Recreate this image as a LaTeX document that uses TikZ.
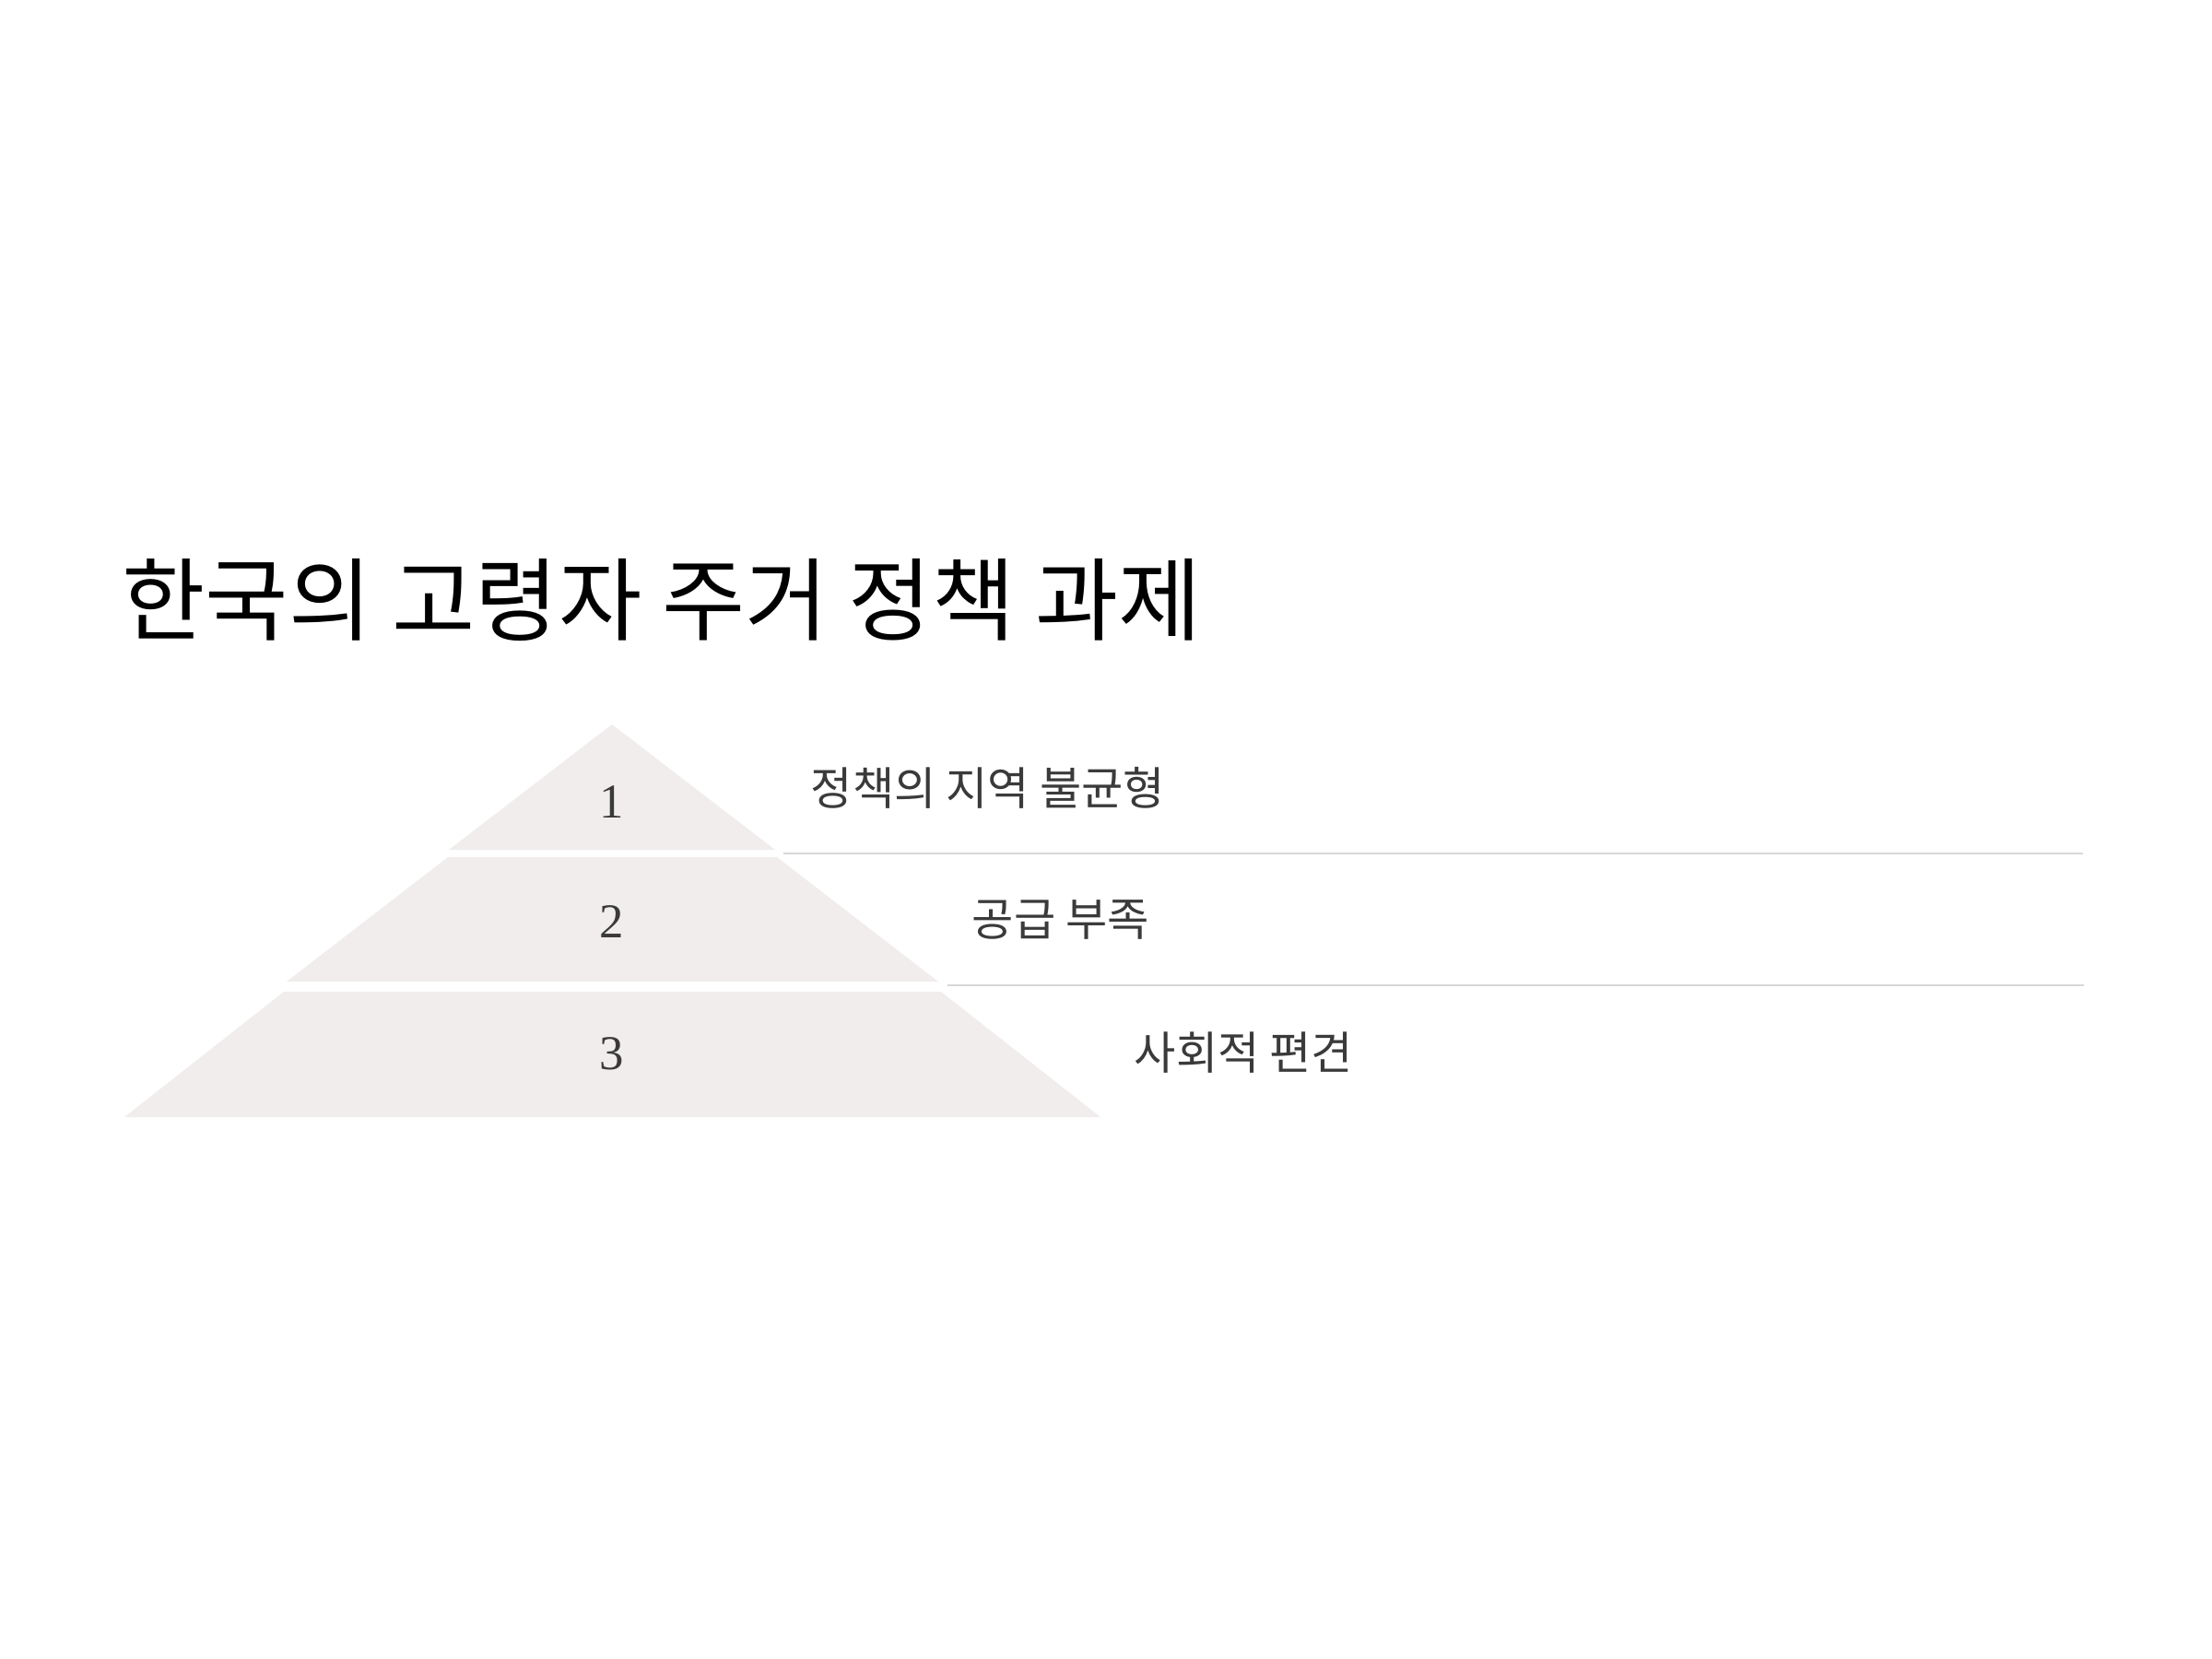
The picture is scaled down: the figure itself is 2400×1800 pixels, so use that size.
\documentclass[tikz,border=0pt]{standalone}
\usepackage{fontspec}
\newfontfamily\cjk{Noto Sans CJK KR}
\setmainfont{Liberation Serif}
\definecolor{layerfill}{HTML}{F0EDEC}
\definecolor{rulecol}{HTML}{D9D6D6}
\definecolor{txt}{HTML}{3A3A3A}
\begin{document}
\begin{tikzpicture}[x=0.01cm,y=-0.01cm,
  layer/.style={fill=layerfill},
  sep/.style={draw=rulecol,line width=0.7pt},
  num/.style={text=txt,font=\fontsize{15}{18}\selectfont,inner sep=0pt},
  lab/.style={text=txt,font=\cjk\fontsize{14}{17}\selectfont,inner sep=0pt,anchor=west},
  ttl/.style={text=black,font=\cjk\fontsize{27.9}{34}\selectfont,inner sep=0pt,anchor=west}]
\useasboundingbox (0,0) rectangle (2400,1800);
% pyramid layers
\fill[layer] (664,786) -- (841,922) -- (487,922) -- cycle;
\fill[layer] (486,930) -- (843,930) -- (1018,1065) -- (311,1065) -- cycle;
\fill[layer] (308,1076) -- (1021,1076) -- (1194,1212) -- (135,1212) -- cycle;
% separators
\coordinate (s1a) at (850,926);
\coordinate (s1b) at (2260,926);
\coordinate (s2a) at (1028,1069);
\coordinate (s2b) at (2261,1069);
\draw[sep] (s1a) -- (s1b);
\draw[sep] (s2a) -- (s2b);
% numbers
\node[num] (n1) at (664,870) {1};
\node[num] (n2) at (664,1000) {2};
\node[num] (n3) at (664,1143) {3};
% labels
\node[lab] (l1) at (879,855) {정책의 지역 불균형};
\node[lab] (l2) at (1054,998) {공급 부족};
\node[lab] (l3) at (1230,1142) {사회적 편견};
% title
\node[ttl] (title) at (132,651) {한국의 고령자 주거 정책 과제};
\end{tikzpicture}
\end{document}
